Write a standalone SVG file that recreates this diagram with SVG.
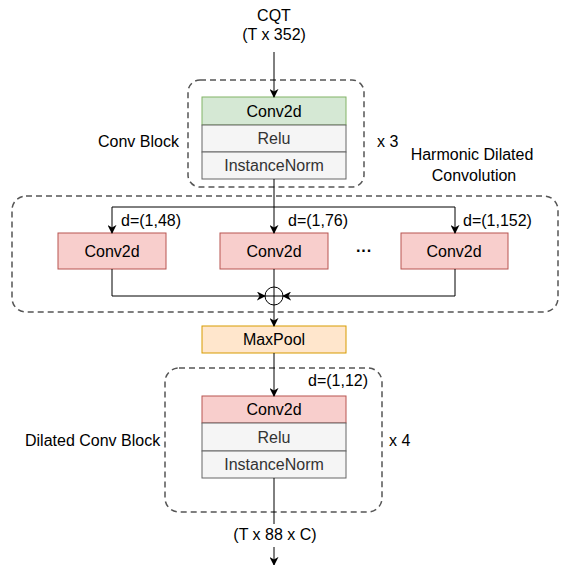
<svg xmlns="http://www.w3.org/2000/svg" width="562" height="565" viewBox="0 0 562 565">
<defs>
<marker id="arr" viewBox="0 0 10 10" refX="9" refY="5" markerWidth="9" markerHeight="9" markerUnits="userSpaceOnUse" orient="auto">
<path d="M0,0 L10,5 L0,10 L3,5 z" fill="#000"/>
</marker>
<style>
text{font-family:"Liberation Sans",Arial,sans-serif;font-size:16px;fill:#000}
.c{text-anchor:middle}
.g{fill:#333}
.dash{fill:none;stroke:#555;stroke-width:1.5;stroke-dasharray:6,4}
.line{fill:none;stroke:#000;stroke-width:1}
.green{fill:#d5e8d4;stroke:#82b366}
.grey{fill:#f5f5f5;stroke:#666}
.red{fill:#f8cecc;stroke:#b85450}
.orange{fill:#ffe6cc;stroke:#d79b00}
</style>
</defs>
<rect width="562" height="565" fill="#fff"/>

<g id="input">
<text class="c" x="274" y="21">CQT</text>
<text class="c" x="274" y="40">(T x 352)</text>
</g>

<g id="conv-block">
<rect class="dash" x="188" y="80" width="176" height="107" rx="12"/>
<rect class="green" x="202" y="97" width="144" height="28"/>
<text class="c" x="274" y="117">Conv2d</text>
<rect class="grey" x="202" y="125" width="144" height="27"/>
<text class="c g" x="274" y="144">Relu</text>
<rect class="grey" x="202" y="152" width="144" height="27"/>
<text class="c g" x="274" y="171">InstanceNorm</text>
<text x="98" y="147">Conv Block</text>
<text x="377" y="147">x 3</text>
</g>

<g id="harmonic">
<text class="c" x="472" y="160">Harmonic Dilated</text>
<text class="c" x="474" y="181">Convolution</text>
<rect class="dash" x="12" y="196" width="546" height="116" rx="14"/>
<g id="conv-a">
<rect class="red" x="58" y="233" width="108" height="36"/>
<text class="c" x="112" y="257">Conv2d</text>
</g>
<g id="conv-b">
<rect class="red" x="220" y="233" width="108" height="36"/>
<text class="c" x="274" y="257">Conv2d</text>
</g>
<g id="conv-c">
<rect class="red" x="401" y="233" width="107" height="36"/>
<text class="c" x="454" y="257">Conv2d</text>
</g>
<text class="c" x="364" y="256" style="font-weight:bold">···</text>
<text x="121" y="226">d=(1,48)</text>
<text x="288" y="226">d=(1,76)</text>
<text x="463" y="226">d=(1,152)</text>
<g id="sum">
<circle cx="274" cy="296" r="9" fill="#fff" stroke="#000"/>
<line class="line" x1="265" y1="296" x2="283" y2="296"/>
<line class="line" x1="274" y1="287" x2="274" y2="305"/>
</g>
</g>

<g id="maxpool">
<rect class="orange" x="202" y="326" width="144" height="27"/>
<text class="c" x="274" y="345">MaxPool</text>
</g>

<g id="dilated-block">
<rect class="dash" x="165" y="368" width="217" height="144" rx="14"/>
<rect class="red" x="202" y="396" width="144" height="27"/>
<text class="c" x="274" y="415">Conv2d</text>
<rect class="grey" x="202" y="423" width="144" height="28"/>
<text class="c g" x="274" y="443">Relu</text>
<rect class="grey" x="202" y="451" width="144" height="27"/>
<text class="c g" x="274" y="470">InstanceNorm</text>
<text x="308" y="386">d=(1,12)</text>
<text x="25" y="446">Dilated Conv Block</text>
<text x="389" y="446">x 4</text>
</g>

<g id="output">
<text class="c" x="275" y="540">(T x 88 x C)</text>
</g>

<g id="connectors">
<line class="line" x1="274" y1="52" x2="274" y2="97" marker-end="url(#arr)"/>
<line class="line" x1="274" y1="179" x2="274" y2="233" marker-end="url(#arr)"/>
<polyline class="line" points="112,207 455,207 455,233" marker-end="url(#arr)"/>
<line class="line" x1="112" y1="207" x2="112" y2="233" marker-end="url(#arr)"/>
<polyline class="line" points="112,269 112,296 265,296" marker-end="url(#arr)"/>
<polyline class="line" points="455,269 455,296 283,296" marker-end="url(#arr)"/>
<line class="line" x1="274" y1="269" x2="274" y2="287"/>
<line class="line" x1="274" y1="305" x2="274" y2="326" marker-end="url(#arr)"/>
<line class="line" x1="274" y1="353" x2="274" y2="396" marker-end="url(#arr)"/>
<line class="line" x1="274" y1="478" x2="274" y2="524"/>
<line class="line" x1="274" y1="547" x2="274" y2="565" marker-end="url(#arr)"/>
</g>
</svg>
